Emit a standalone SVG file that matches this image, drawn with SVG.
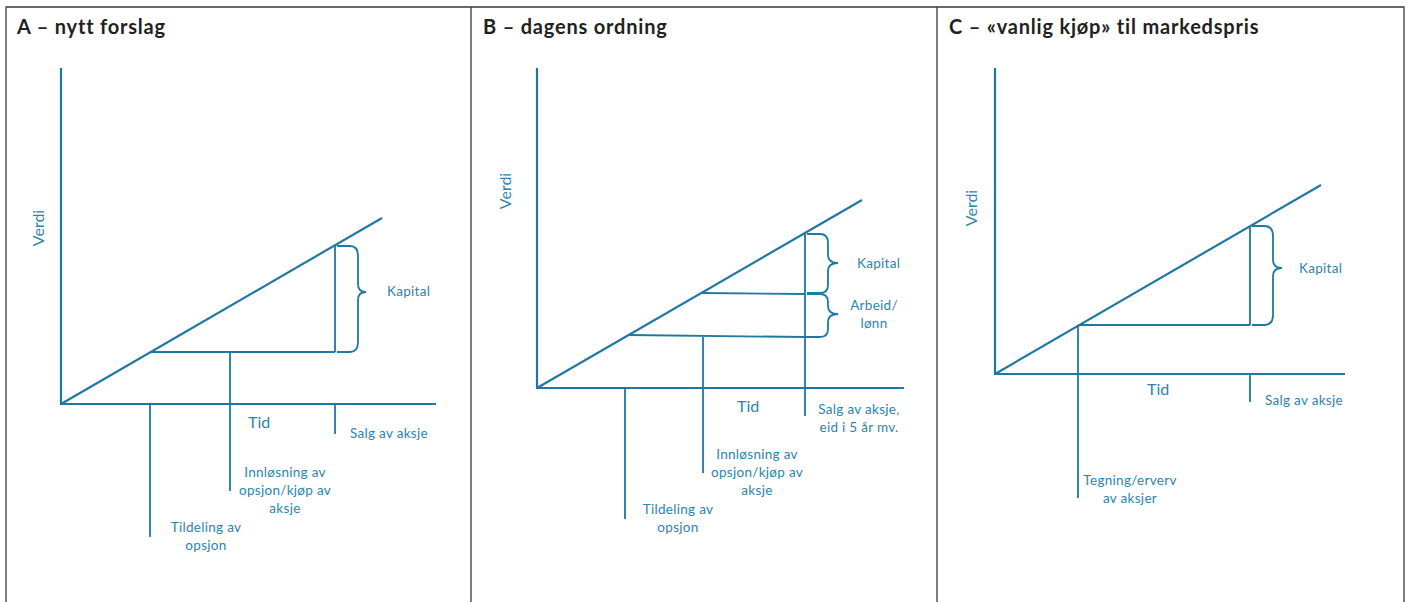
<svg xmlns="http://www.w3.org/2000/svg" width="1408" height="602" viewBox="0 0 1408 602">
<style>
.frame{fill:none;stroke:#3a3a3a;stroke-width:1.3}
.ax{fill:none;stroke:#1f78a4;stroke-width:2.2}
.ln{fill:none;stroke:#1f78a4;stroke-width:1.8}
.br{fill:none;stroke:#1f78a4;stroke-width:1.8}
.title{font-family:"Lato","Liberation Sans",sans-serif;font-weight:bold;font-size:20px;letter-spacing:0.8px;fill:#231f20}
.lbl{font-family:"Lato","Open Sans",sans-serif;font-size:13.5px;letter-spacing:0.3px;fill:#2b84b0}
.big{font-family:"Lato","Open Sans",sans-serif;font-size:16px;fill:#2b84b0}
.c{text-anchor:middle}
</style>
<g id="frame">
<path class="frame" d="M6,602 V7 H1404 V602 M471,7 V602 M937,7 V602"/>
</g>
<g id="panelA">
<text class="title" x="17" y="34">A – nytt forslag</text>
<text class="big c" transform="translate(44,228) rotate(-90)">Verdi</text>
<text class="big" x="248" y="428">Tid</text>
<text class="lbl" x="387" y="296">Kapital</text>
<text class="lbl" x="350" y="438">Salg av aksje</text>
<text class="lbl c" x="285" y="477">Innløsning av</text>
<text class="lbl c" x="285" y="495">opsjon/kjøp av</text>
<text class="lbl c" x="285" y="513">aksje</text>
<text class="lbl c" x="206" y="532">Tildeling av</text>
<text class="lbl c" x="206" y="550">opsjon</text>
</g>
<g id="panelB">
<text class="title" x="483" y="34">B – dagens ordning</text>
<text class="big c" transform="translate(511,191) rotate(-90)">Verdi</text>
<text class="big" x="737" y="412">Tid</text>
<text class="lbl" x="857" y="268">Kapital</text>
<text class="lbl c" x="874" y="310">Arbeid/</text>
<text class="lbl c" x="874" y="328">lønn</text>
<text class="lbl c" x="859" y="414">Salg av aksje,</text>
<text class="lbl c" x="859" y="432">eid i 5 år mv.</text>
<text class="lbl c" x="757" y="459">Innløsning av</text>
<text class="lbl c" x="757" y="477">opsjon/kjøp av</text>
<text class="lbl c" x="757" y="495">aksje</text>
<text class="lbl c" x="678" y="514">Tildeling av</text>
<text class="lbl c" x="678" y="532">opsjon</text>
</g>
<g id="panelC">
<text class="title" x="949" y="34">C – «vanlig kjøp» til markedspris</text>
<text class="big c" transform="translate(977,208) rotate(-90)">Verdi</text>
<text class="big" x="1147" y="395">Tid</text>
<text class="lbl" x="1299" y="273">Kapital</text>
<text class="lbl" x="1265" y="405">Salg av aksje</text>
<text class="lbl c" x="1130" y="485">Tegning/erverv</text>
<text class="lbl c" x="1130" y="503">av aksjer</text>
</g>
<g id="connectors">
<path class="ax" d="M61,68 V404 H436"/>
<path class="ax" d="M61,404 L382,218"/>
<path class="ln" d="M150,352 H335 M335,246 V352 M335,404 V434 M230,352 V491 M150,404 V537"/>
<path class="br" d="M337,246 H350 Q358,246 358,256 V284 Q358,292 366,292 Q358,292 358,300 V342 Q358,352 350,352 H337"/>
<path class="ax" d="M537,68 V388 H904"/>
<path class="ax" d="M537,388 L862,200"/>
<path class="ln" d="M805,233 V416 M702,293 L805,294 M628,335 L805,337 M703,336 V473 M625,388 V519"/>
<path class="br" d="M807,234 H820 Q828,234 828,243 V255 Q828,263 838,263 Q828,263 828,271 V285 Q828,293 820,293 H807"/>
<path class="br" d="M807,294 H820 Q828,294 828,302 V306 Q828,314 838,314 Q828,314 828,322 V329 Q828,337 820,337 H805"/>
<path class="ax" d="M995,68 V374 H1345"/>
<path class="ax" d="M995,374 L1321,185"/>
<path class="ln" d="M1078,325 H1250 M1250,226 V325 M1250,374 V402 M1078,325 V498"/>
<path class="br" d="M1252,226 H1264 Q1273,226 1273,236 V260 Q1273,268 1282,268 Q1273,268 1273,276 V315 Q1273,325 1264,325 H1252"/>
</g>
</svg>
